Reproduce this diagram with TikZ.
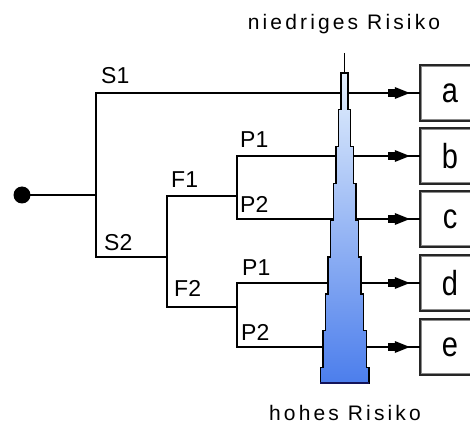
\documentclass[tikz,border=0pt]{standalone}
\usepackage{fontspec}
\setmainfont{Liberation Sans}
\newfontfamily\spaced[LetterSpace=15]{Liberation Sans}
\usetikzlibrary{arrows.meta,decorations.markings}
\definecolor{towertop}{RGB}{228,240,253}
\definecolor{towerbot}{RGB}{76,126,236}
\definecolor{towernavy}{RGB}{20,20,90}
\begin{document}
\begin{tikzpicture}[x=1pt,y=-1pt,
  tree/.style={line width=1.7pt, black, line cap=rect},
  conn/.style={tree, postaction={decorate}, decoration={markings, mark=at position -9pt with {\fill (-15,-6) -- (0,0) -- (-15,6) -- cycle; \fill (-22,-4) rectangle (-14,4);}}},
  box/.style={draw=black!85, line width=2.4pt, fill=white, minimum width=60pt, minimum height=56pt, inner sep=0pt, font=\fontsize{29}{29}\selectfont},
  lbl/.style={anchor=base west, inner sep=0pt, font=\fontsize{23}{23}\selectfont},
  risk/.style={anchor=base, inner sep=0pt, font=\spaced\fontsize{21}{21}\selectfont},
  inner/.style={draw=black!45, line width=1pt}
]
\useasboundingbox (0,0) rectangle (470,427);
\clip (0,0) rectangle (470,427);

% boxes
\node[box] (a) at (450,93) {\scalebox{1}[1.2]{a}};
\node[box] (b) at (450,156) {\scalebox{1}[1.2]{b}};
\node[box] (c) at (450,219) {\scalebox{1}[1.2]{c}};
\node[box] (d) at (450,283) {\scalebox{1}[1.2]{d}};
\node[box] (e) at (450,347) {\scalebox{1}[1.2]{e}};
\foreach \n in {a,b,c,d,e}
  \draw[inner] ([shift={(2.5,2.5)}]\n.north west) rectangle ([shift={(-2.5,-2.5)}]\n.south east);

% tree
\node[circle, fill=black, minimum size=17pt, inner sep=0pt] (start) at (22,195) {};
\coordinate (s) at (96,195);
\coordinate (s1) at (96,93);
\coordinate (s2) at (96,257);
\coordinate (f) at (167,257);
\coordinate (f1) at (167,196);
\coordinate (f2) at (167,307);
\coordinate (p1) at (237,196);
\coordinate (p1a) at (237,156);
\coordinate (p1b) at (237,219);
\coordinate (p2) at (237,307);
\coordinate (p2a) at (237,283);
\coordinate (p2b) at (237,347);

\draw[tree] (start) -- (s);
\draw[tree] (s1) -- (s2) -- (f);
\draw[tree] (f1) -- (f2);
\draw[tree] (f1) -- (p1);
\draw[tree] (f2) -- (p2);
\draw[tree] (p1a) -- (p1b);
\draw[tree] (p2a) -- (p2b);
\draw[conn] (s1) -- (a);
\draw[conn] (p1a) -- (b);
\draw[conn] (p1b) -- (c);
\draw[conn] (p2a) -- (d);
\draw[conn] (p2b) -- (e);

% labels
\node[lbl] (ls1) at (101,84) {S1};
\node[lbl] (ls2) at (104,250) {S2};
\node[lbl] (lf1) at (171,188) {F1};
\node[lbl] (lf2) at (174,296) {F2};
\node[lbl] (lp1a) at (240,148) {P1};
\node[lbl] (lp1b) at (240,213) {P2};
\node[lbl] (lp2a) at (242,275) {P1};
\node[lbl] (lp2b) at (241,340) {P2};

% risk tower
\draw[line width=1.4pt] (344.5,53) -- (344.5,73);
\draw[line width=1.4pt, draw=black, top color=towertop, bottom color=towerbot, line join=miter]
  (341,73) -- (341,109.8) -- (338.4,109.8) -- (338.4,146.6) -- (335.8,146.6) -- (335.8,183.4)
  -- (333.2,183.4) -- (333.2,220.2) -- (330.6,220.2) -- (330.6,257) -- (328,257) -- (328,293.8)
  -- (325.4,293.8) -- (325.4,330.6) -- (322.8,330.6) -- (322.8,367.4) -- (320.2,367.4) -- (320.2,383)
  -- (368.8,383) -- (368.8,367.4) -- (366.2,367.4) -- (366.2,330.6) -- (363.6,330.6) -- (363.6,293.8)
  -- (361,293.8) -- (361,257) -- (358.4,257) -- (358.4,220.2) -- (355.8,220.2) -- (355.8,183.4)
  -- (353.2,183.4) -- (353.2,146.6) -- (350.6,146.6) -- (350.6,109.8) -- (348,109.8) -- (348,73) -- cycle;
\draw[line width=1.6pt, towernavy] (320.2,383) -- (368.8,383);

\node[risk] (low) at (344,30) {niedriges Risiko};
\node[risk] (high) at (345,420) {hohes Risiko};
\end{tikzpicture}
\end{document}
